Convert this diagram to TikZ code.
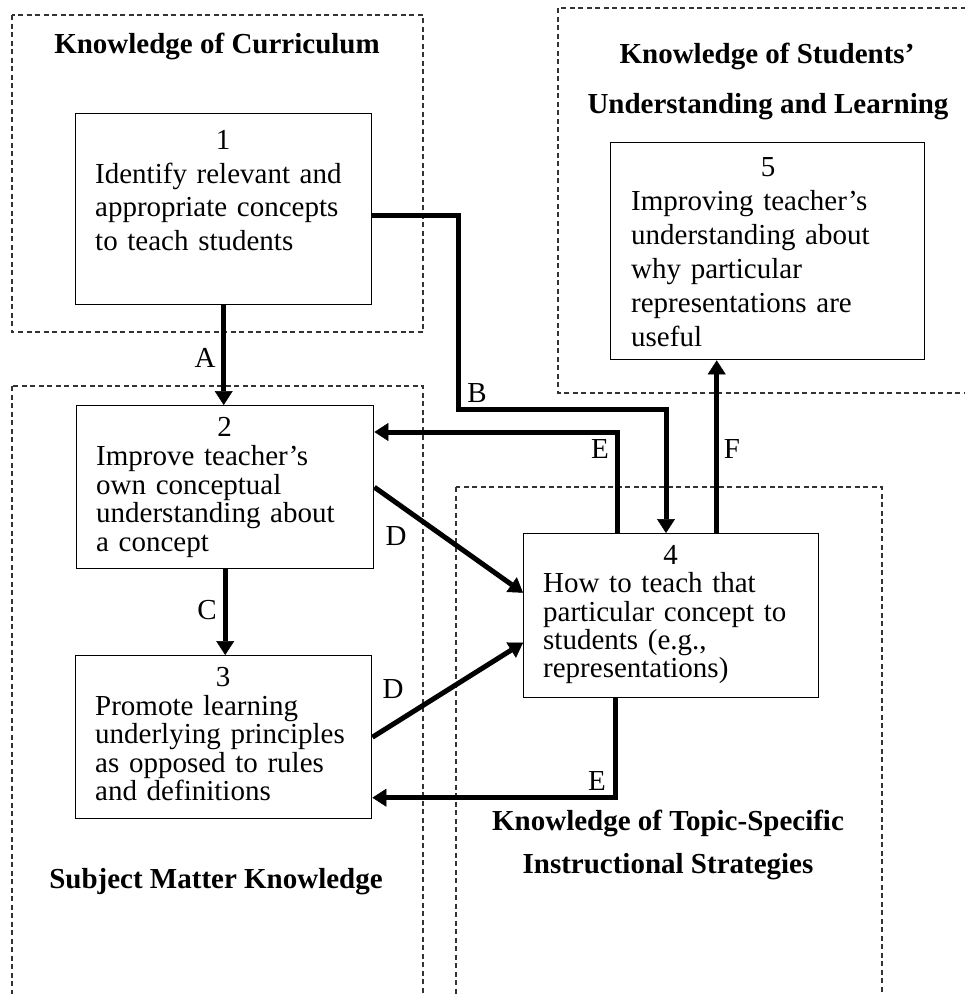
\documentclass[tikz,border=0pt]{standalone}
\usepackage{fontspec}
\setmainfont{Liberation Serif}
\usetikzlibrary{arrows.meta,calc}
\begin{document}
\begin{tikzpicture}[x=1pt,y=-1pt,
  box/.style={draw, line width=1.4pt, inner sep=0pt, anchor=north west},
  txt/.style={anchor=north west, inner sep=0pt, align=left},
  ttl/.style={anchor=base, inner sep=0pt, font=\fontsize{29}{35}\selectfont\bfseries},
  lbl/.style={anchor=base, inner sep=0pt, font=\fontsize{29}{35}\selectfont},
  dbox/.style={line width=1.1pt, dash pattern=on 5pt off 3.5pt, draw=black!80},
  arr/.style={line width=5pt, -{Triangle[length=14pt,width=18pt,line width=0.5pt]}}
]
\useasboundingbox (0,0) rectangle (965,994);
\fill[white] (0,0) rectangle (965,994);

% dashed knowledge regions
\begin{scope}
\clip (0,0) rectangle (965,994);
\draw[dbox] (12,15) rectangle (423,332);
\draw[dbox] (558,8) rectangle (1010,393);
\draw[dbox] (12,386) rectangle (423,1100);
\draw[dbox] (456,487) rectangle (882,1100);
\end{scope}

% titles
\node[ttl] (tc) at (217,53) {Knowledge of Curriculum};
\node[ttl] (ts1) at (767,63) {Knowledge of Students’};
\node[ttl] (ts2) at (768,113) {Understanding and Learning};
\node[ttl] (tm) at (216,888) {Subject Matter Knowledge};
\node[ttl] (tt1) at (668,830) {Knowledge of Topic-Specific};
\node[ttl] (tt2) at (668,873) {Instructional Strategies};

% boxes
\node[box, minimum width=296pt, minimum height=191pt] (b1) at (75,113) {};
\node[box, minimum width=297pt, minimum height=163pt] (b2) at (76,405) {};
\node[box, minimum width=296pt, minimum height=163pt] (b3) at (75,655) {};
\node[box, minimum width=295pt, minimum height=164pt] (b4) at (523,533) {};
\node[box, minimum width=314pt, minimum height=217pt] (b5) at (610,142) {};

% box texts
\node[txt, text width=256pt, font=\fontsize{29}{33.5}\selectfont] (t1) at (95,130.4)
  {\makebox[256pt]{1}\\Identify relevant and\\appropriate concepts\\to teach students};
\node[txt, text width=257pt, font=\fontsize{29}{28.7}\selectfont] (t2) at (96,417.4)
  {\makebox[257pt]{2}\\Improve teacher’s\\own conceptual\\understanding about\\a concept};
\node[txt, text width=256pt, font=\fontsize{29}{28.5}\selectfont] (t3) at (95,667.4)
  {\makebox[256pt]{3}\\Promote learning\\underlying principles\\as opposed to rules\\and definitions};
\node[txt, text width=255pt, font=\fontsize{29}{28.3}\selectfont] (t4) at (543,545.4)
  {\makebox[255pt]{4}\\How to teach that\\particular concept to\\students (e.g.,\\representations)};
\node[txt, text width=274pt, font=\fontsize{29}{34}\selectfont] (t5) at (631,157.4)
  {\makebox[274pt]{5}\\Improving teacher’s\\understanding about\\why particular\\representations are\\useful};

% connectors
\coordinate (bB) at (458,409);
\coordinate (bB2) at (666,409);
\draw[arr] (b1.south) -- (b1.south |- b2.north);
\draw[arr] (b2.south) -- (b2.south |- b3.north);
\draw[arr] ([yshift=-6.5pt]b1.east) -| (bB) -- (bB2) -- (bB2 |- b4.north);
\draw[arr] ([xshift=-53.5pt]b4.north) |- ([yshift=-27pt]b2.north east);
\draw[arr] ([xshift=45.5pt]b4.north) -- ([xshift=45.5pt]b4.north |- b5.south);
\draw[arr] (b2.east) -- ([yshift=23pt]b4.west);
\draw[arr] (b3.east) -- ([yshift=-27pt]b4.west);
\draw[arr] ([xshift=-55.5pt]b4.south) |- ([yshift=-60.5pt]b3.east);

% labels
\node[lbl] (lA) at (205,367) {A};
\node[lbl] (lB) at (477,402) {B};
\node[lbl] (lC) at (207,619) {C};
\node[lbl] (lD1) at (396,545) {D};
\node[lbl] (lD2) at (393,698) {D};
\node[lbl] (lE1) at (600,458) {E};
\node[lbl] (lF) at (732,458) {F};
\node[lbl] (lE2) at (597,790) {E};
\end{tikzpicture}
\end{document}
